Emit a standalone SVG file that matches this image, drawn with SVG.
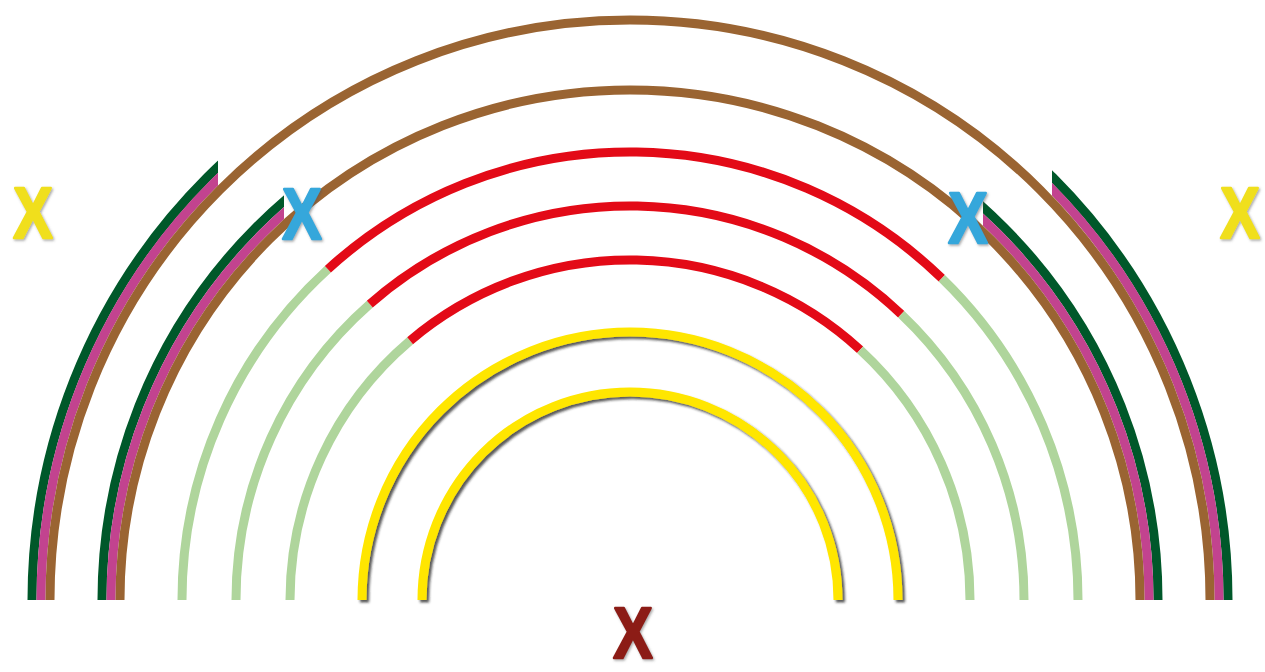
<svg xmlns="http://www.w3.org/2000/svg" width="1265" height="672" viewBox="0 0 1265 672">
<style>
.a{fill:none;stroke-width:9;stroke-linecap:butt}
.br{stroke:#9A6432}
.pk{stroke:#C2438F}
.dg{stroke:#00582A}
.lg{stroke:#AFD59C}
.rd{stroke:#E30A17}
.yl{stroke:#FFE600}
.x{font-family:"Liberation Sans",Arial,sans-serif;font-weight:bold;font-size:72px;text-anchor:middle;stroke-width:2.5;stroke-linejoin:round}
</style>
<defs>
<filter id="sh" x="-10%" y="-10%" width="130%" height="130%">
<feDropShadow dx="2.5" dy="2.5" stdDeviation="1.2" flood-color="#222" flood-opacity="0.75"/>
</filter>
<filter id="xs" x="-20%" y="-20%" width="150%" height="150%">
<feDropShadow dx="1.5" dy="1.5" stdDeviation="1" flood-color="#555" flood-opacity="0.5"/>
</filter>
<clipPath id="c1"><rect x="0" y="0" width="218" height="672"/><rect x="1052" y="0" width="213" height="672"/></clipPath>
<clipPath id="c2"><rect x="0" y="0" width="284" height="672"/><rect x="983" y="0" width="282" height="672"/></clipPath>
</defs>
<rect width="1265" height="672" fill="#fff"/>
<g id="arcs">
<g id="outer-band" clip-path="url(#c1)">
<path class="a dg" d="M32 600 A598 598 0 0 1 1228 600"/>
<path class="a pk" d="M41 600 A589 589 0 0 1 1219 600"/>
</g>
<path id="arc-outer" class="a br" d="M50 600 A580 580 0 0 1 1210 600"/>
<g id="second-band" clip-path="url(#c2)">
<path class="a dg" d="M102 600 A528 528 0 0 1 1158 600"/>
<path class="a pk" d="M111 600 A519 519 0 0 1 1149 600"/>
</g>
<path id="arc-second" class="a br" d="M120 600 A510 510 0 0 1 1140 600"/>
<g id="arc-448">
<path class="a lg" d="M182 600 A448 448 0 0 1 327.9 269.2"/>
<path class="a rd" d="M327.9 269.2 A448 448 0 0 1 941.8 278.3"/>
<path class="a lg" d="M941.8 278.3 A448 448 0 0 1 1078 600"/>
</g>
<g id="arc-394">
<path class="a lg" d="M236 600 A394 394 0 0 1 369.8 304.1"/>
<path class="a rd" d="M369.8 304.1 A394 394 0 0 1 901.2 314.2"/>
<path class="a lg" d="M901.2 314.2 A394 394 0 0 1 1024 600"/>
</g>
<g id="arc-340">
<path class="a lg" d="M290 600 A340 340 0 0 1 410.1 340.7"/>
<path class="a rd" d="M410.1 340.7 A340 340 0 0 1 860.1 349.7"/>
<path class="a lg" d="M860.1 349.7 A340 340 0 0 1 970 600"/>
</g>
<path id="arc-268" class="a yl" filter="url(#sh)" d="M362 600 A268 268 0 0 1 898 600"/>
<path id="arc-208" class="a yl" filter="url(#sh)" d="M422 600 A208 208 0 0 1 838 600"/>
</g>
<g id="x-yellow-left"><text class="x" fill="#F0DF1E" stroke="#F0DF1E" filter="url(#xs)" transform="translate(33,238) scale(0.82,1)">X</text></g>
<g id="x-yellow-right"><text class="x" fill="#F0DF1E" stroke="#F0DF1E" filter="url(#xs)" transform="translate(1240,238) scale(0.82,1)">X</text></g>
<g id="x-blue-left"><text class="x" fill="#35A7DB" stroke="#35A7DB" filter="url(#xs)" transform="translate(302,239) scale(0.82,1)">X</text></g>
<g id="x-blue-right"><text class="x" fill="#35A7DB" stroke="#35A7DB" filter="url(#xs)" transform="translate(968,243) scale(0.82,1)">X</text></g>
<g id="x-red-bottom"><text class="x" fill="#8C1D16" stroke="#8C1D16" filter="url(#xs)" transform="translate(633,658) scale(0.82,1)">X</text></g>
</svg>
